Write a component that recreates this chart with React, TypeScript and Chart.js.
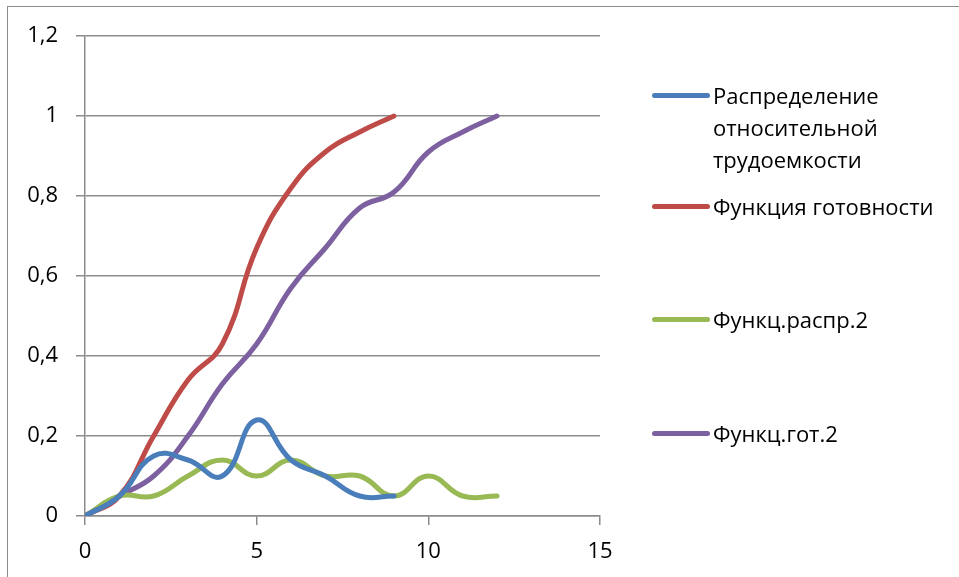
import React, { useEffect, useRef } from "react";
import { Chart, registerables } from "chart.js";

Chart.register(...registerables);

const xBlue = [0, 1, 2, 3, 4, 5, 6, 7, 8, 9];
const raspr1 = [0, 0.05, 0.15, 0.14, 0.1, 0.24, 0.14, 0.1, 0.05, 0.05];
const gotov1 = [0, 0.05, 0.2, 0.34, 0.43, 0.67, 0.82, 0.91, 0.96, 1.0];
const xGreen = [0, 1, 2, 3, 4, 5, 6, 7, 8, 9, 10, 11, 12];
const raspr2 = [0, 0.05, 0.05, 0.1, 0.14, 0.1, 0.14, 0.1, 0.1, 0.05, 0.1, 0.05, 0.05];
const gotov2 = [0, 0.05, 0.1, 0.2, 0.33, 0.43, 0.57, 0.67, 0.77, 0.81, 0.91, 0.96, 1.0];

const seriesNames = [
  "Распределение относительной трудоемкости",
  "Функция готовности",
  "Функц.распр.2",
  "Функц.гот.2",
];
const seriesColors = ["#4A7EBB", "#BE4B48", "#98B954", "#7D60A0"];

const FONT = "'Open Sans', sans-serif";

function pts(xs: number[], ys: number[]) {
  return ys.map((y, i) => ({ x: xs[i], y }));
}

function fmt(v: number) {
  const r = Math.round(v * 10) / 10;
  return String(r).replace(".", ",");
}

export default function App() {
  const ref = useRef<HTMLCanvasElement | null>(null);

  useEffect(() => {
    document.body.style.margin = "0";
    const ctx = ref.current!;
    const data = [pts(xBlue, raspr1), pts(xBlue, gotov1), pts(xGreen, raspr2), pts(xGreen, gotov2)];
    const chart = new Chart(ctx, {
      type: "scatter",
      data: {
        datasets: data.map((d, i) => ({
          label: seriesNames[i],
          data: d,
          showLine: true,
          borderColor: seriesColors[i],
          backgroundColor: seriesColors[i],
          borderWidth: 5,
          pointRadius: 0,
          tension: 0.45,
          borderCapStyle: "round" as const,
          borderJoinStyle: "round" as const,
        })),
      },
      options: {
        animation: false,
        responsive: false,
        maintainAspectRatio: false,
        layout: { padding: { left: 0, top: 36, right: 359, bottom: 0 } },
        plugins: { legend: { display: false }, tooltip: { enabled: false } },
        scales: {
          x: {
            type: "linear",
            min: 0,
            max: 15,
            ticks: {
              stepSize: 5,
              color: "#000",
              font: { family: FONT, size: 22 },
              padding: 14,
              maxRotation: 0,
              callback: (v: any) => fmt(Number(v)),
            },
            grid: {
              drawOnChartArea: false,
              drawTicks: true,
              tickLength: 9,
              color: "#8c8c8c",
              lineWidth: 1.5,
            },
            border: { color: "#8c8c8c", width: 1.5 },
            afterFit: (s: any) => {
              s.height = 61;
            },
          },
          y: {
            type: "linear",
            min: 0,
            max: 1.2,
            ticks: {
              stepSize: 0.2,
              color: "#000",
              font: { family: FONT, size: 22 },
              padding: 18,
              callback: (v: any) => fmt(Number(v)),
            },
            grid: {
              drawTicks: true,
              tickLength: 9,
              color: "#8c8c8c",
              lineWidth: 1.5,
            },
            border: { color: "#8c8c8c", width: 1.5 },
            afterFit: (s: any) => {
              s.width = 85;
            },
          },
        },
      },
    });
    return () => chart.destroy();
  }, []);

  const legendY = [95, 206, 319, 433];

  return (
    <div style={{ position: "fixed", left: 0, top: 0, width: 959, height: 577, background: "#fff", overflow: "hidden" }}>
      <div
        style={{
          position: "absolute",
          left: 7,
          top: 6,
          width: 1100,
          height: 1100,
          border: "1.5px solid #8c8c8c",
          boxSizing: "border-box",
        }}
      />
      <canvas ref={ref} width={959} height={577} style={{ position: "absolute", left: 0, top: 0, width: 959, height: 577 }} />
      {seriesNames.map((name, i) => (
        <React.Fragment key={i}>
          <div
            style={{
              position: "absolute",
              left: 652,
              top: legendY[i] - 2.5,
              width: 58,
              height: 5,
              borderRadius: 3,
              background: seriesColors[i],
            }}
          />
          <div
            style={{
              position: "absolute",
              left: 713,
              top: legendY[i] - 16,
              whiteSpace: "nowrap",
              fontFamily: FONT,
              fontSize: 22,
              lineHeight: "32px",
              color: "#000",
            }}
          >
            {i === 0 ? (
              <>
                Распределение
                <br />
                относительной
                <br />
                трудоемкости
              </>
            ) : (
              name
            )}
          </div>
        </React.Fragment>
      ))}
    </div>
  );
}
